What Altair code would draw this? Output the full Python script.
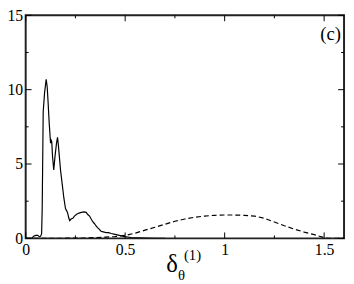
import altair as alt
import pandas as pd

# solid curve
solid_x = [0, 0.03, 0.04, 0.05, 0.06, 0.07, 0.075, 0.08, 0.083, 0.088, 0.095, 0.103, 0.108, 0.112,
           0.118, 0.125, 0.128, 0.131, 0.135, 0.141, 0.148, 0.155, 0.160, 0.164, 0.168, 0.175, 0.184,
           0.192, 0.200, 0.206, 0.211, 0.216, 0.221, 0.228, 0.237, 0.245, 0.256, 0.268, 0.280, 0.292,
           0.304, 0.312, 0.321, 0.329, 0.337, 0.345, 0.353, 0.361, 0.369, 0.377, 0.385, 0.395, 0.405,
           0.417, 0.43, 0.449, 0.465, 0.481, 0.497, 0.513, 0.53, 0.56, 0.6, 0.65, 0.7]
solid_y = [0, 0, 0.15, 0.2, 0.2, 0.1, 0.15, 0.3, 2.0, 8.5, 9.8, 10.7, 10.2, 9.3,
           7.8, 6.4, 6.6, 6.5, 5.5, 4.6, 5.6, 6.4, 6.8, 6.3, 5.7, 4.6, 3.6,
           2.7, 2.0, 1.85, 1.7, 1.4, 1.2, 1.3, 1.35, 1.5, 1.62, 1.7, 1.75, 1.78,
           1.75, 1.6, 1.5, 1.3, 1.12, 1.0, 0.85, 0.72, 0.62, 0.5, 0.45, 0.42, 0.38,
           0.38, 0.33, 0.27, 0.22, 0.17, 0.12, 0.09, 0.06, 0.04, 0.02, 0.0, 0.0]

# dashed curve
dash_x = [0, 0.1, 0.2, 0.3, 0.4, 0.45, 0.5, 0.55, 0.6, 0.65, 0.7, 0.75, 0.8, 0.85, 0.9, 0.95,
          1.0, 1.05, 1.1, 1.15, 1.2, 1.25, 1.3, 1.35, 1.4, 1.45, 1.5, 1.52, 1.6]
dash_y = [0, 0, 0.01, 0.03, 0.08, 0.12, 0.2, 0.35, 0.55, 0.75, 0.95, 1.15, 1.3, 1.42, 1.5, 1.55,
          1.57, 1.57, 1.55, 1.5, 1.35, 1.1, 0.85, 0.62, 0.42, 0.25, 0.05, 0.0, 0.0]

x_major = [0, 0.5, 1, 1.5]
x_minor = [0.25, 0.75, 1.25]
y_major = [0, 5, 10, 15]
y_minor = [2.5, 7.5, 12.5]

W, H = 324, 227
FONT = "Liberation Serif"

xs = alt.Scale(domain=[0, 1.6], nice=False, zero=False)
ys = alt.Scale(domain=[0, 15], nice=False)

solid = pd.DataFrame({"x": solid_x, "y": solid_y})
dashed = pd.DataFrame({"x": dash_x, "y": dash_y})

axis_style = dict(format="~g", title=None, ticks=False, domain=False, grid=False,
                  labelFont=FONT, labelFontSize=16, labelColor="black", labelPadding=3,
                  labelFlush=False)
xaxis = alt.Axis(values=x_major, **axis_style)
yaxis = alt.Axis(values=y_major, **axis_style)


def X(f):
    return alt.X(f, scale=xs, axis=xaxis)


def Y(f):
    return alt.Y(f, scale=ys, axis=yaxis)


l_solid = alt.Chart(solid).mark_line(color="black", strokeWidth=1.2, clip=True).encode(
    x=X("x:Q"), y=Y("y:Q"))
l_dash = alt.Chart(dashed).mark_line(color="black", strokeWidth=1.2, strokeDash=[5, 3],
                                     clip=True).encode(x=X("x:Q"), y=Y("y:Q"))


def xticks(vals, length):
    d = pd.DataFrame({"x": vals})
    bot = alt.Chart(d).mark_rule(color="black", strokeWidth=1).encode(
        x=X("x:Q"), y=alt.value(H), y2=alt.value(H - length))
    top = alt.Chart(d).mark_rule(color="black", strokeWidth=1).encode(
        x=X("x:Q"), y=alt.value(0), y2=alt.value(length))
    return [bot, top]


def yticks(vals, length):
    d = pd.DataFrame({"y": vals})
    left = alt.Chart(d).mark_rule(color="black", strokeWidth=1).encode(
        y=Y("y:Q"), x=alt.value(0), x2=alt.value(length))
    right = alt.Chart(d).mark_rule(color="black", strokeWidth=1).encode(
        y=Y("y:Q"), x=alt.value(W), x2=alt.value(W - length))
    return [left, right]


ticks = xticks(x_major, 6) + xticks(x_minor, 3) + yticks(y_major, 6) + yticks(y_minor, 3)

panel = alt.Chart(pd.DataFrame({"t": ["(c)"]})).mark_text(
    font=FONT, fontSize=19, align="right", baseline="alphabetic", color="black").encode(
    text="t:N", x=alt.value(321), y=alt.value(25))

t1 = alt.Chart(pd.DataFrame({"t": ["δ"]})).mark_text(
    font=FONT, fontSize=25, align="center", baseline="alphabetic", color="black").encode(
    text="t:N", x=alt.value(149), y=alt.value(261))
t2 = alt.Chart(pd.DataFrame({"t": ["θ"]})).mark_text(
    font=FONT, fontSize=15, align="left", baseline="alphabetic", color="black").encode(
    text="t:N", x=alt.value(155), y=alt.value(269))
t3 = alt.Chart(pd.DataFrame({"t": ["(1)"]})).mark_text(
    font=FONT, fontSize=15, align="left", baseline="alphabetic", color="black").encode(
    text="t:N", x=alt.value(161), y=alt.value(249))

chart = alt.layer(l_solid, l_dash, *ticks, panel, t1, t2, t3).properties(
    width=W, height=H, autosize="none", background="white",
    padding={"left": 18, "top": 5, "right": 2, "bottom": 44},
).configure_view(
    stroke="#222222", strokeWidth=2
).configure_axis(
    ticks=False, domain=False, grid=False, labelFont=FONT, labelFontSize=16,
    labelColor="black", labelPadding=3, labelFlush=False
)

chart.save("out.html", embed_options={"renderer": "svg", "actions": False})
